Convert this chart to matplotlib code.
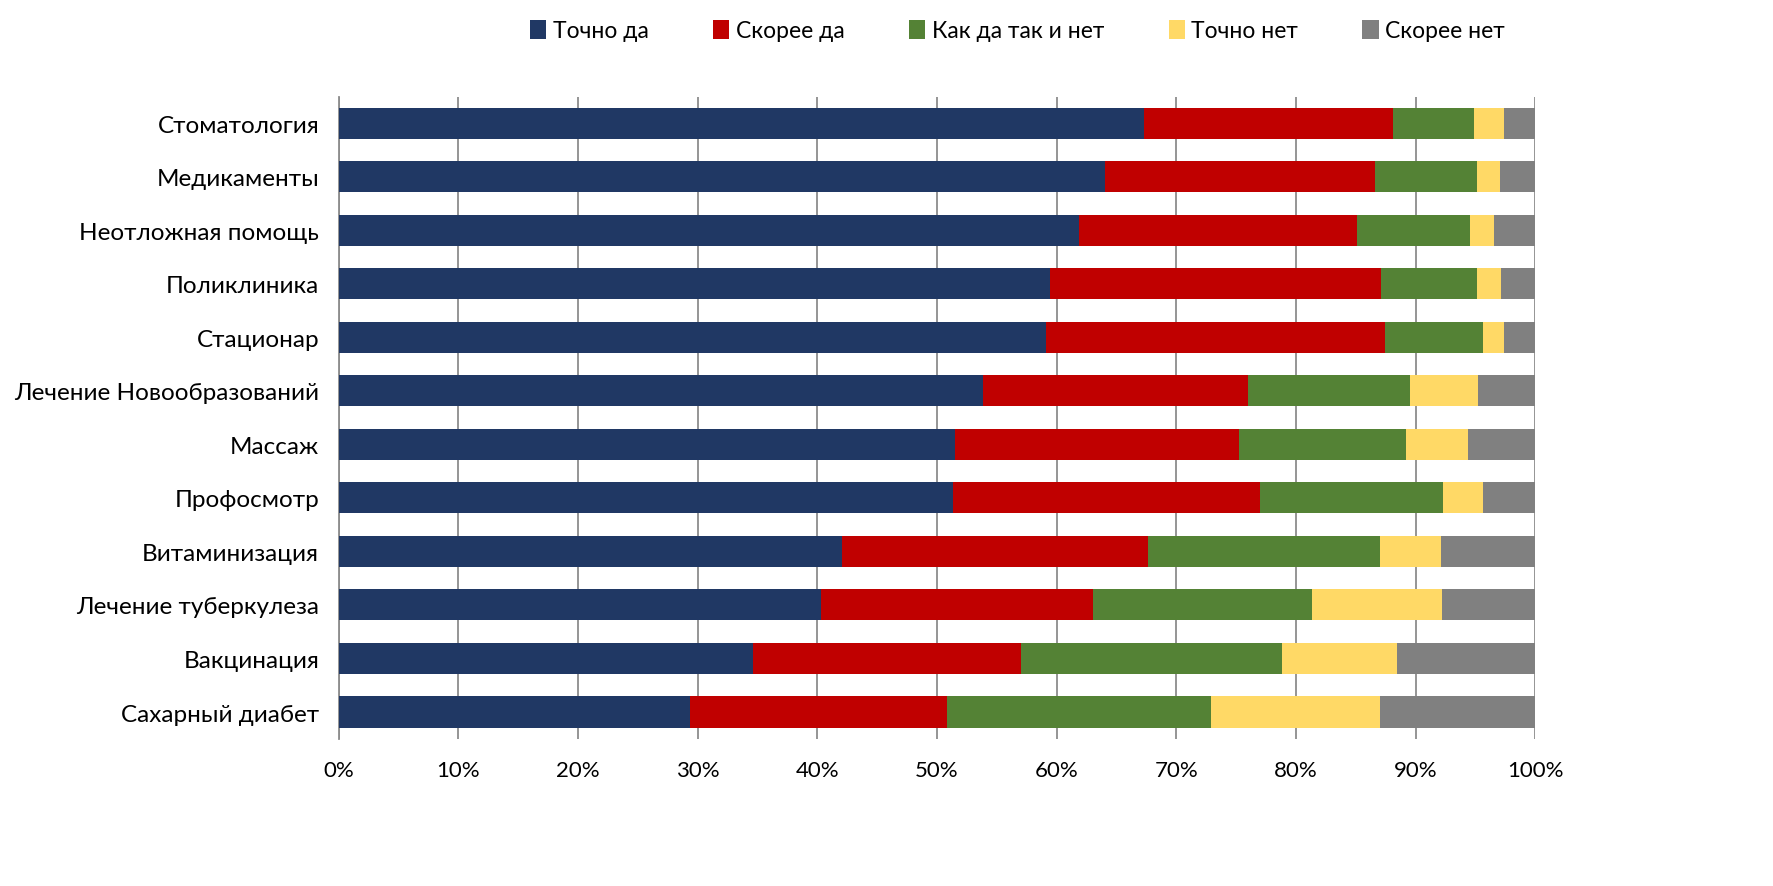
import matplotlib.pyplot as plt
import numpy as np

plt.rcParams['font.family'] = ['Lato', 'DejaVu Sans']

# Категории (сверху вниз)
categorias = ['Стоматология', 'Медикаменты', 'Неотложная помощь', 'Поликлиника',
              'Стационар', 'Лечение Новообразований', 'Массаж', 'Профосмотр',
              'Витаминизация', 'Лечение туберкулеза', 'Вакцинация', 'Сахарный диабет']

# Доли ответов, %
tochno_da = [67.3, 64.0, 61.9, 59.4, 59.1, 53.8, 51.5, 51.3, 42.1, 40.3, 34.6, 29.4]
skoree_da = [20.8, 22.6, 23.2, 27.7, 28.3, 22.2, 23.7, 25.7, 25.5, 22.7, 22.4, 21.4]
kak_da_tak_net = [6.8, 8.5, 9.4, 8.0, 8.2, 13.5, 14.0, 15.3, 19.4, 18.3, 21.8, 22.1]
tochno_net = [2.5, 1.9, 2.0, 2.0, 1.8, 5.7, 5.2, 3.3, 5.1, 10.9, 9.6, 14.1]
skoree_net = [2.6, 3.0, 3.5, 2.9, 2.6, 4.8, 5.6, 4.4, 7.9, 7.8, 11.6, 13.0]

series = [tochno_da, skoree_da, kak_da_tak_net, tochno_net, skoree_net]
nombres = ['Точно да', 'Скорее да', 'Как да так и нет', 'Точно нет', 'Скорее нет']
colores = ['#203864', '#C00000', '#548235', '#FFD966', '#808080']

fig = plt.figure(figsize=(17.73, 8.87), dpi=100)
ax = fig.add_axes([0.191, 0.166, 0.675, 0.724])

y = np.arange(len(categorias))
izq = np.zeros(len(categorias))
for vals, nom, col in zip(series, nombres, colores):
    vals = np.array(vals) / 100.0
    ax.barh(y, vals, left=izq, height=0.58, color=col, label=nom, zorder=3)
    izq += vals

ax.set_ylim(len(categorias) - 0.5, -0.5)
ax.set_xlim(0, 1)
ax.set_yticks(y)
ax.set_yticklabels(categorias, fontsize=17.5)
xt = np.linspace(0, 1, 11)
ax.set_xticks(xt)
ax.set_xticklabels(['%d%%' % round(v * 100) for v in xt], fontsize=16)
ax.tick_params(axis='y', length=0, pad=14)
ax.tick_params(axis='x', length=0, pad=15)
ax.grid(axis='x', color='#8c8c8c', linewidth=1.3, zorder=0)
for s in ['top', 'right', 'bottom']:
    ax.spines[s].set_visible(False)
ax.spines['left'].set_color('#8c8c8c')
ax.spines['left'].set_linewidth(1.3)

fig.legend(loc='upper center', bbox_to_anchor=(0.574, 1.0), ncol=5, frameon=False,
           fontsize=16.5, handlelength=0.7, handleheight=0.9, handletextpad=0.3,
           columnspacing=2.8)

fig.savefig('out.png', dpi=100)
